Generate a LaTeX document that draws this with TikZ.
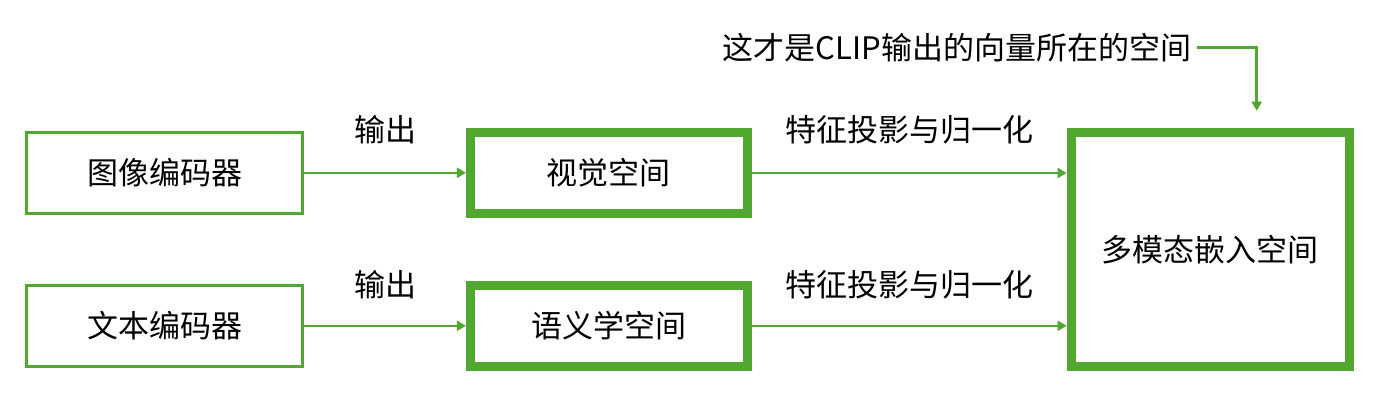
\documentclass[tikz,border=0pt]{standalone}
\usepackage{fontspec}
\setmainfont{Noto Sans CJK SC}
\usetikzlibrary{arrows.meta}
\definecolor{gr}{RGB}{82,167,48}
\begin{document}
\begin{tikzpicture}[x=1pt,y=-1pt,
  every node/.style={font=\fontsize{31}{37}\selectfont, text=black},
  thinbox/.style={draw=gr, line width=3pt, minimum width=276pt, minimum height=80.7pt, inner sep=0pt},
  thickbox/.style={draw=gr, line width=9pt, inner sep=0pt},
  conn/.style={draw=gr, line width=2.5pt, -{Triangle[length=9pt,width=10pt]}},
  lbl/.style={inner sep=0pt}]
\useasboundingbox (0,0) rectangle (1391,410);
\node[thinbox] (img) at (164.5,172.8) {图像编码器};
\node[thinbox] (txt) at (164.5,325.8) {文本编码器};
\node[thickbox, minimum width=276.7pt, minimum height=80.4pt] (vis) at (608.8,173) {视觉空间};
\node[thickbox, minimum width=276.7pt, minimum height=80.7pt] (sem) at (608.8,325.8) {语义学空间};
\node[thickbox, minimum width=278.3pt, minimum height=234pt] (mm) at (1210.3,249.2) {多模态嵌入空间};
\draw[conn] (img.east) -- (vis.west |- img.east);
\draw[conn] (txt.east) -- (sem.west |- txt.east);
\draw[conn] (vis.east) -- (mm.west |- vis.east);
\draw[conn] (sem.east) -- (mm.west |- sem.east);
\node[lbl] (o1) at (385.5,130) {输出};
\node[lbl] (o2) at (385.5,285) {输出};
\node[lbl] (p1) at (909,130) {特征投影与归一化};
\node[lbl] (p2) at (909,285) {特征投影与归一化};
\node[lbl] (note) at (957,47.7) {这才是CLIP输出的向量所在的空间};
\coordinate (tip) at (1256.7,110.7);
\draw[draw=gr, line width=2.5pt, -{Triangle[length=9pt,width=10pt]}] ([xshift=6pt]note.east) -| (tip);
\end{tikzpicture}
\end{document}
